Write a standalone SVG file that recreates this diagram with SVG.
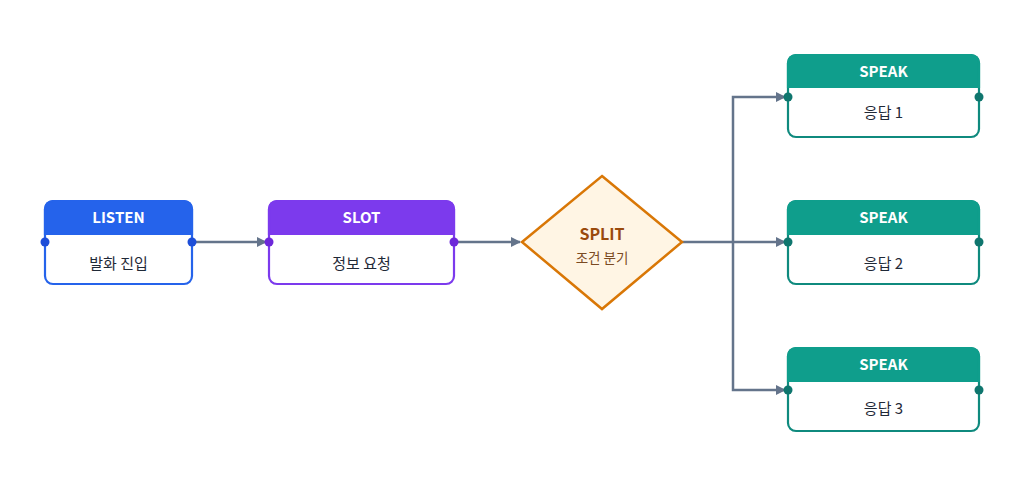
<svg xmlns="http://www.w3.org/2000/svg" width="1024" height="486" viewBox="0 0 1024 486">
<defs>
<style>
.hdr{font-family:"Noto Sans CJK KR","Noto Sans",sans-serif;font-weight:700;font-size:15px;fill:#ffffff;text-anchor:middle}
.body{font-family:"Noto Sans CJK KR","Noto Sans",sans-serif;font-size:15px;fill:#1f2937;text-anchor:middle}
.edge{fill:none;stroke:#64748b;stroke-width:2.5}
</style>
<marker id="arr" viewBox="0 0 10 10" refX="9" refY="5" markerWidth="4" markerHeight="4" orient="auto" markerUnits="strokeWidth">
<path d="M0,0 L10,5 L0,10 Z" fill="#64748b"/>
</marker>
</defs>
<rect width="1024" height="486" fill="#ffffff"/>

<g id="connectors">
<path class="edge" d="M192,242 H266" marker-end="url(#arr)"/>
<path class="edge" d="M454,242 H520" marker-end="url(#arr)"/>
<path class="edge" d="M682,242 H785" marker-end="url(#arr)"/>
<path class="edge" d="M733,242 V97 H785" marker-end="url(#arr)"/>
<path class="edge" d="M733,242 V390 H785" marker-end="url(#arr)"/>
</g>

<g id="listen">
<rect x="45" y="201" width="147" height="83" rx="8" fill="#ffffff" stroke="#2563eb" stroke-width="2.2"/>
<path d="M45,234 V209 A8,8 0 0 1 53,201 H184 A8,8 0 0 1 192,209 V234 Z" fill="#2563eb" stroke="#2563eb" stroke-width="2.2"/>
<text class="hdr" x="118.5" y="223">LISTEN</text>
<text class="body" x="118.5" y="269">발화 진입</text>
<circle cx="45" cy="242" r="4.5" fill="#1d4ed8"/>
<circle cx="192" cy="242" r="4.5" fill="#1d4ed8"/>
</g>

<g id="slot">
<rect x="269" y="201" width="185" height="83" rx="8" fill="#ffffff" stroke="#7c3aed" stroke-width="2.2"/>
<path d="M269,234 V209 A8,8 0 0 1 277,201 H446 A8,8 0 0 1 454,209 V234 Z" fill="#7c3aed" stroke="#7c3aed" stroke-width="2.2"/>
<text class="hdr" x="361.5" y="223">SLOT</text>
<text class="body" x="361.5" y="269">정보 요청</text>
<circle cx="269" cy="242" r="4.5" fill="#6d28d9"/>
<circle cx="454" cy="242" r="4.5" fill="#6d28d9"/>
</g>

<g id="split">
<polygon points="602,176 682,242 602,309 522,242" fill="#fff5e4" stroke="#d97706" stroke-width="2.5" stroke-linejoin="miter"/>
<text x="602" y="240" text-anchor="middle" font-family="Noto Sans CJK KR, Noto Sans, sans-serif" font-weight="700" font-size="16" fill="#9a4a0c">SPLIT</text>
<text x="602" y="263" text-anchor="middle" font-family="Noto Sans CJK KR, Noto Sans, sans-serif" font-size="13.5" fill="#7a4a22">조건 분기</text>
</g>

<g id="speak1">
<rect x="788" y="55" width="191" height="82" rx="8" fill="#ffffff" stroke="#0f8a7e" stroke-width="2.2"/>
<path d="M788,87 V63 A8,8 0 0 1 796,55 H971 A8,8 0 0 1 979,63 V87 Z" fill="#0f9e8c" stroke="#0f9e8c" stroke-width="2.2"/>
<text class="hdr" x="883.5" y="77">SPEAK</text>
<text class="body" x="883.5" y="118">응답 1</text>
<circle cx="788" cy="97" r="4.5" fill="#0f766e"/>
<circle cx="979" cy="97" r="4.5" fill="#0f766e"/>
</g>

<g id="speak2">
<rect x="788" y="201" width="191" height="83" rx="8" fill="#ffffff" stroke="#0f8a7e" stroke-width="2.2"/>
<path d="M788,234 V209 A8,8 0 0 1 796,201 H971 A8,8 0 0 1 979,209 V234 Z" fill="#0f9e8c" stroke="#0f9e8c" stroke-width="2.2"/>
<text class="hdr" x="883.5" y="223">SPEAK</text>
<text class="body" x="883.5" y="269">응답 2</text>
<circle cx="788" cy="242" r="4.5" fill="#0f766e"/>
<circle cx="979" cy="242" r="4.5" fill="#0f766e"/>
</g>

<g id="speak3">
<rect x="788" y="348" width="191" height="83" rx="8" fill="#ffffff" stroke="#0f8a7e" stroke-width="2.2"/>
<path d="M788,381 V356 A8,8 0 0 1 796,348 H971 A8,8 0 0 1 979,356 V381 Z" fill="#0f9e8c" stroke="#0f9e8c" stroke-width="2.2"/>
<text class="hdr" x="883.5" y="370">SPEAK</text>
<text class="body" x="883.5" y="414">응답 3</text>
<circle cx="788" cy="390" r="4.5" fill="#0f766e"/>
<circle cx="979" cy="390" r="4.5" fill="#0f766e"/>
</g>
</svg>
